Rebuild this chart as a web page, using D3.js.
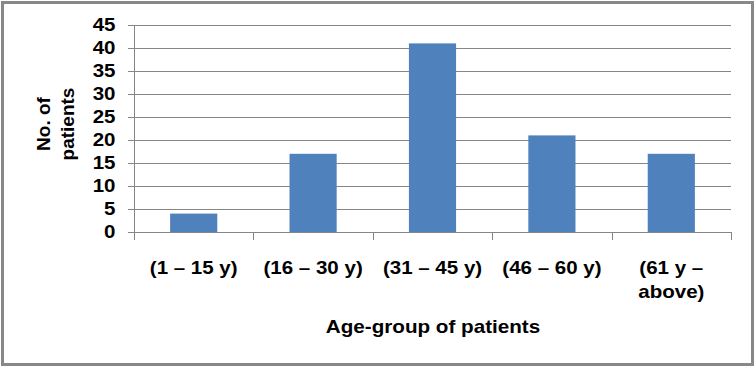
<!DOCTYPE html>
<html><head><meta charset="utf-8">
<script src="https://cdn.jsdelivr.net/npm/d3@7"></script>
<style>body{margin:0;background:#fff}svg{display:block}</style>
</head><body>
<script>
const categories = ["(1 – 15 y)", "(16 – 30 y)", "(31 – 45 y)", "(46 – 60 y)", "(61 y –\nabove)"];
const values = [4, 17, 41, 21, 17];
const yTicks = [0, 5, 10, 15, 20, 25, 30, 35, 40, 45];
const yTitle = ["No. of", "patients"];
const xTitle = "Age-group of patients";

(function () {
const W = 756, H = 368;
const svg = d3.select("body").append("svg").attr("width", W).attr("height", H);
svg.append("rect").attr("x", 2.5).attr("y", 2.5).attr("width", 750).attr("height", 362)
  .attr("fill", "#fff").attr("stroke", "#888").attr("stroke-width", 3);

const pl = 134, pr = 731, pt = 25, pb = 232;
const xOuter = d3.scaleBand().domain(categories).range([pl, pr]);
const barW = xOuter.bandwidth() * 0.395;
const y = d3.scaleLinear().domain([0, 45]).range([pb, pt]);
const font = "Arial, 'Liberation Sans', sans-serif";
const SX = 1.14;

// grid
svg.append("g").selectAll("line").data(yTicks).join("line")
  .attr("x1", pl - 6).attr("x2", pr).attr("y1", d => Math.round(y(d)) + 0.5).attr("y2", d => Math.round(y(d)) + 0.5)
  .attr("stroke", "#868686").attr("stroke-width", 1);
// y axis line
svg.append("line").attr("x1", pl + 0.5).attr("x2", pl + 0.5).attr("y1", pt).attr("y2", pb)
  .attr("stroke", "#868686");
// x ticks
const xt = categories.map(c => xOuter(c)).concat([pr]);
svg.append("g").selectAll("line").data(xt).join("line")
  .attr("x1", d => Math.round(d) + 0.5).attr("x2", d => Math.round(d) + 0.5)
  .attr("y1", pb).attr("y2", pb + 8).attr("stroke", "#868686");

// bars
svg.append("g").selectAll("rect").data(values).join("rect")
  .attr("x", (d, i) => xOuter(categories[i]) + (xOuter.bandwidth() - barW) / 2).attr("width", barW)
  .attr("y", d => y(d)).attr("height", d => pb - y(d)).attr("fill", "#4F81BD");

// y labels
svg.append("g").selectAll("text").data(yTicks).join("text")
  .attr("transform", d => `translate(115.5,${y(d)}) scale(${SX},1)`)
  .attr("dy", "0.36em").attr("text-anchor", "end")
  .attr("font-family", font).attr("font-weight", "bold").attr("font-size", 18).text(d => d);

// x labels
categories.forEach(c => {
  const lines = c.split("\n");
  const cx = xOuter(c) + xOuter.bandwidth() / 2;
  const t = svg.append("text").attr("transform", `translate(${cx},274) scale(${SX},1)`)
    .attr("text-anchor", "middle").attr("font-family", font).attr("font-weight", "bold").attr("font-size", 18);
  lines.forEach((l, i) => t.append("tspan").attr("x", 0).attr("y", i * 24.5).text(l));
});

// y title
const yt = svg.append("text").attr("transform", "translate(62,124) rotate(-90)").attr("text-anchor", "middle")
  .attr("font-family", font).attr("font-weight", "bold").attr("font-size", 19);
yTitle.forEach((l, i) => yt.append("tspan").attr("x", 0).attr("y", i ? 12 : -12.5).text(l));

// x title
svg.append("text").attr("transform", `translate(433,333) scale(1.18,1)`).attr("text-anchor", "middle")
  .attr("font-family", font).attr("font-weight", "bold").attr("font-size", 17.5).text(xTitle);
})();
</script>
</body></html>
